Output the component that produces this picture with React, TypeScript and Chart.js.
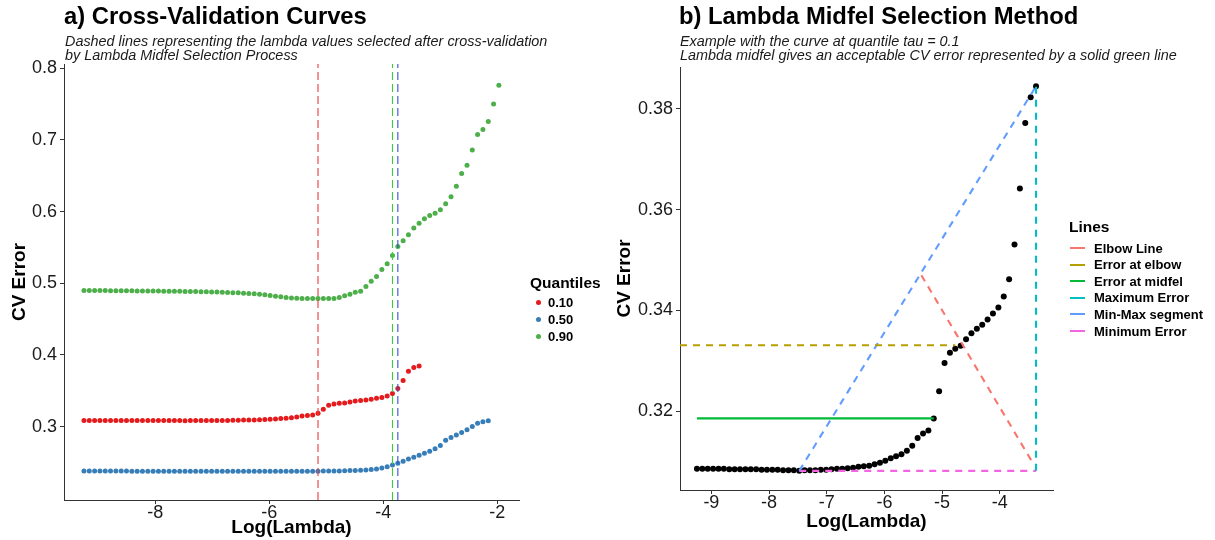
import React, { useEffect, useRef } from "react";
import { Chart, registerables } from "chart.js";

Chart.register(...registerables);

const FONT = "'Liberation Sans', Arial, Helvetica, sans-serif";

// ---------- shared lambda grid (log scale) ----------
const LOG_LAMBDA = [
  -9.25, -9.157, -9.063, -8.97, -8.877, -8.784, -8.69, -8.597, -8.504, -8.41,
  -8.317, -8.224, -8.13, -8.037, -7.944, -7.851, -7.757, -7.664, -7.571, -7.477,
  -7.384, -7.291, -7.197, -7.104, -7.011, -6.918, -6.824, -6.731, -6.638, -6.544,
  -6.451, -6.358, -6.264, -6.171, -6.078, -5.985, -5.891, -5.798, -5.705, -5.611,
  -5.518, -5.425, -5.331, -5.238, -5.145, -5.052, -4.958, -4.865, -4.772, -4.678,
  -4.585, -4.492, -4.398, -4.305, -4.212, -4.119, -4.025, -3.932, -3.839, -3.745,
  -3.652, -3.559, -3.465, -3.372, -3.279, -3.186, -3.092, -2.999, -2.906, -2.812,
  -2.719, -2.626, -2.532, -2.439, -2.346, -2.253, -2.159, -2.066, -1.973,
];

// ---------- CV error curves per quantile ----------
const CV_TAU_010 = [
  0.3086, 0.3086, 0.3086, 0.3086, 0.3086, 0.3086, 0.3085, 0.3085, 0.3085, 0.3085,
  0.3085, 0.3085, 0.3084, 0.3084, 0.3084, 0.3084, 0.3083, 0.3083, 0.3083, 0.3082,
  0.3083, 0.3083, 0.3083, 0.3084, 0.3084, 0.3085, 0.3086, 0.3086, 0.3087, 0.3088,
  0.309, 0.3091, 0.3092, 0.3095, 0.3098, 0.3102, 0.3107, 0.3111, 0.3115, 0.3122,
  0.3132, 0.3147, 0.3156, 0.3162, 0.3186, 0.324, 0.3296, 0.3316, 0.3324, 0.333,
  0.3343, 0.3355, 0.3364, 0.3372, 0.3382, 0.3394, 0.3406, 0.3428, 0.3462, 0.3531,
  0.3642, 0.3772, 0.3823, 0.3845,
];

const CV_TAU_050 = [
  0.2378, 0.2378, 0.2378, 0.2378, 0.2378, 0.2378, 0.2378, 0.2378, 0.2378, 0.2377,
  0.2377, 0.2377, 0.2377, 0.2377, 0.2377, 0.2377, 0.2377, 0.2377, 0.2377, 0.2376,
  0.2376, 0.2376, 0.2376, 0.2376, 0.2376, 0.2376, 0.2376, 0.2376, 0.2376, 0.2376,
  0.2376, 0.2376, 0.2376, 0.2376, 0.2376, 0.2376, 0.2376, 0.2376, 0.2376, 0.2376,
  0.2376, 0.2376, 0.2376, 0.2376, 0.2377, 0.2378, 0.2379, 0.238, 0.2381, 0.2383,
  0.2385, 0.2387, 0.239, 0.2394, 0.2399, 0.2408, 0.242, 0.244, 0.2464, 0.2487,
  0.2515, 0.2547, 0.2571, 0.2599, 0.2627, 0.2655, 0.2692, 0.2734, 0.2809, 0.2846,
  0.2883, 0.2916, 0.2954, 0.3, 0.3047, 0.3066, 0.308,
];

const CV_TAU_090 = [
  0.49, 0.4899, 0.4899, 0.4898, 0.4898, 0.4897, 0.4897, 0.4896, 0.4895, 0.4894,
  0.4893, 0.4893, 0.4892, 0.4891, 0.4891, 0.489, 0.4889, 0.4888, 0.4887, 0.4886,
  0.4885, 0.4884, 0.4883, 0.4881, 0.4879, 0.4877, 0.4875, 0.4872, 0.4869, 0.4866,
  0.4862, 0.4857, 0.4852, 0.4846, 0.4838, 0.483, 0.482, 0.481, 0.48, 0.4794,
  0.479, 0.4787, 0.4786, 0.4786, 0.4787, 0.4786, 0.4786, 0.4787, 0.48, 0.4824,
  0.4847, 0.4875, 0.4889, 0.4954, 0.5029, 0.5094, 0.5192, 0.5272, 0.5388, 0.5514,
  0.5594, 0.5678, 0.577, 0.5836, 0.5901, 0.5944, 0.5976, 0.6027, 0.6111, 0.6209,
  0.6353, 0.6531, 0.6647, 0.6861, 0.7077, 0.7147, 0.7259, 0.75, 0.7762,
];

const QUANTILE_LABELS = ["0.10", "0.50", "0.90"];
const QUANTILE_SERIES = [CV_TAU_010, CV_TAU_050, CV_TAU_090];
const QUANTILE_COLORS = ["#E41A1C", "#377EB8", "#4DAF4A"];
// lambda selected by the midfel process, per quantile
const SELECTED_LOG_LAMBDA = [-5.145, -3.745, -3.839];
const SELECTED_COLORS = ["#EE3B3B", "#3A4FD6", "#3CCB3C"];

// ---------- axes ----------
const LEFT_X_RANGE = [-9.6, -1.62];
const LEFT_Y_RANGE = [0.1975, 0.806];
const LEFT_X_TICKS = [-8, -6, -4, -2];
const LEFT_Y_TICKS = [0.3, 0.4, 0.5, 0.6, 0.7, 0.8];
const RIGHT_X_RANGE = [-9.544, -3.078];
const RIGHT_Y_RANGE = [0.3044, 0.3883];
const RIGHT_X_TICKS = [-9, -8, -7, -6, -5, -4];
const RIGHT_Y_TICKS = [0.32, 0.34, 0.36, 0.38];

// ---------- panel b: midfel method (tau = 0.1 curve) ----------
const MIN_ERROR_IDX = 19;
const MIDFEL_IDX = 44;
const ELBOW_IDX = 48;
const MAX_ERROR_IDX = 63;
const ELBOW_ERROR = 0.3331;
const ELBOW_LINE_X = [-5.36, -3.43];
const ELBOW_LINE_Y = [0.347, 0.3098];
const LINE_NAMES = [
  "Elbow Line",
  "Error at elbow",
  "Error at midfel",
  "Maximum Error",
  "Min-Max segment",
  "Minimum Error",
];
const LINE_COLORS = ["#F8766D", "#B79F00", "#00BA38", "#00BFC4", "#619CFF", "#F564E3"];

const TITLE_A = "a) Cross-Validation Curves";
const SUBTITLE_A = [
  "Dashed lines representing the lambda values selected after cross-validation",
  "by Lambda Midfel Selection Process",
];
const TITLE_B = "b) Lambda Midfel Selection Method";
const SUBTITLE_B = [
  "Example with the curve at quantile tau = 0.1",
  "Lambda midfel gives an acceptable CV error represented by a solid green line",
];

function toPoints(ys: number[]) {
  return ys.map((y, i) => ({ x: LOG_LAMBDA[i], y }));
}

function makeScale(o: {
  axis: "x" | "y";
  range: number[];
  ticks: number[];
  decimals: number | null;
  title: string;
  fit: number;
  tickPad: number;
  titlePad: any;
}) {
  return {
    type: "linear",
    min: o.range[0],
    max: o.range[1],
    afterBuildTicks: (s: any) => {
      s.ticks = o.ticks.map((v) => ({ value: v }));
    },
    afterFit: (s: any) => {
      if (o.axis === "x") s.height = o.fit;
      else s.width = o.fit;
    },
    ticks: {
      font: { family: FONT, size: 18, lineHeight: 1 },
      color: "#1a1a1a",
      padding: o.tickPad,
      maxRotation: 0,
      autoSkip: false,
      callback: (v: any) => (o.decimals == null ? String(v) : Number(v).toFixed(o.decimals)),
    },
    grid: {
      display: true,
      drawOnChartArea: false,
      drawTicks: true,
      tickLength: 4,
      color: "#333333",
      lineWidth: 1,
    },
    border: { display: true, color: "#333333", width: 1 },
    title: {
      display: true,
      text: o.title,
      color: "#000",
      font: { family: FONT, size: 19, weight: "bold", lineHeight: 1 },
      padding: o.titlePad,
    },
  };
}

function leftConfig(): any {
  const datasets: any[] = [];
  SELECTED_LOG_LAMBDA.forEach((v, i) => {
    datasets.push({
      label: "sel " + QUANTILE_LABELS[i],
      data: [
        { x: v, y: LEFT_Y_RANGE[0] },
        { x: v, y: LEFT_Y_RANGE[1] },
      ],
      showLine: true,
      borderColor: SELECTED_COLORS[i],
      borderWidth: 1.1,
      borderDash: [8, 4],
      pointRadius: 0,
      order: 0,
    });
  });
  QUANTILE_SERIES.forEach((s, i) => {
    datasets.push({
      label: QUANTILE_LABELS[i],
      data: toPoints(s),
      showLine: false,
      pointRadius: 2.5,
      pointBorderWidth: 0,
      backgroundColor: QUANTILE_COLORS[i],
      borderColor: QUANTILE_COLORS[i],
      order: 1,
    });
  });
  return {
    type: "scatter",
    data: { datasets },
    options: {
      animation: false,
      responsive: false,
      devicePixelRatio: 1,
      layout: { padding: { left: 0, top: 64, right: 81, bottom: 0 } },
      plugins: { legend: { display: false }, tooltip: { enabled: false } },
      events: [],
      scales: {
        x: makeScale({
          axis: "x",
          range: LEFT_X_RANGE,
          ticks: LEFT_X_TICKS,
          decimals: null,
          title: "Log(Lambda)",
          fit: 40,
          tickPad: 0,
          titlePad: { top: 0, bottom: 2.5 },
        }),
        y: makeScale({
          axis: "y",
          range: LEFT_Y_RANGE,
          ticks: LEFT_Y_TICKS,
          decimals: 1,
          title: "CV Error",
          fit: 64,
          tickPad: 3,
          titlePad: { top: 10.5, bottom: 0 },
        }),
      },
    },
  };
}

function rightConfig(): any {
  const cv = CV_TAU_010;
  const segs = [
    ELBOW_LINE_X.map((x, i) => ({ x, y: ELBOW_LINE_Y[i] })),
    [
      { x: RIGHT_X_RANGE[0], y: ELBOW_ERROR },
      { x: LOG_LAMBDA[ELBOW_IDX], y: ELBOW_ERROR },
    ],
    [
      { x: LOG_LAMBDA[0], y: cv[MIDFEL_IDX] },
      { x: LOG_LAMBDA[MIDFEL_IDX], y: cv[MIDFEL_IDX] },
    ],
    [
      { x: LOG_LAMBDA[MAX_ERROR_IDX], y: cv[MIN_ERROR_IDX] },
      { x: LOG_LAMBDA[MAX_ERROR_IDX], y: cv[MAX_ERROR_IDX] },
    ],
    [
      { x: LOG_LAMBDA[MIN_ERROR_IDX], y: cv[MIN_ERROR_IDX] },
      { x: LOG_LAMBDA[MAX_ERROR_IDX], y: cv[MAX_ERROR_IDX] },
    ],
    [
      { x: LOG_LAMBDA[MIN_ERROR_IDX], y: cv[MIN_ERROR_IDX] },
      { x: LOG_LAMBDA[MAX_ERROR_IDX], y: cv[MIN_ERROR_IDX] },
    ],
  ];
  const datasets: any[] = [
    {
      label: "CV error tau 0.1",
      data: toPoints(cv),
      showLine: false,
      pointRadius: 3,
      pointBorderWidth: 0,
      backgroundColor: "#000",
      borderColor: "#000",
      order: 2,
    },
  ];
  segs.forEach((d, i) => {
    const solid = i === 2;
    datasets.push({
      label: LINE_NAMES[i],
      data: d,
      showLine: true,
      borderColor: LINE_COLORS[i],
      borderWidth: solid ? 2.4 : 2.1,
      borderDash: solid ? [] : [7, 6],
      borderCapStyle: "butt",
      pointRadius: 0,
      order: 1,
    });
  });
  return {
    type: "scatter",
    data: { datasets },
    options: {
      animation: false,
      responsive: false,
      devicePixelRatio: 1,
      layout: { padding: { left: 0, top: 67, right: 162, bottom: 0 } },
      plugins: { legend: { display: false }, tooltip: { enabled: false } },
      events: [],
      scales: {
        x: makeScale({
          axis: "x",
          range: RIGHT_X_RANGE,
          ticks: RIGHT_X_TICKS,
          decimals: null,
          title: "Log(Lambda)",
          fit: 50,
          tickPad: 0.5,
          titlePad: { top: 0, bottom: 9 },
        }),
        y: makeScale({
          axis: "y",
          range: RIGHT_Y_RANGE,
          ticks: RIGHT_Y_TICKS,
          decimals: 2,
          title: "CV Error",
          fit: 80,
          tickPad: 3,
          titlePad: { top: 15.5, bottom: 0 },
        }),
      },
    },
  };
}

const abs = (left: number, top: number, extra: any = {}): any => ({
  position: "absolute",
  left,
  top,
  whiteSpace: "nowrap",
  ...extra,
});

export default function App() {
  const leftRef = useRef<HTMLCanvasElement>(null);
  const rightRef = useRef<HTMLCanvasElement>(null);

  useEffect(() => {
    const c1 = new Chart(leftRef.current as HTMLCanvasElement, leftConfig());
    const c2 = new Chart(rightRef.current as HTMLCanvasElement, rightConfig());
    return () => {
      c1.destroy();
      c2.destroy();
    };
  }, []);

  const titleStyle = { fontSize: 23.8, lineHeight: "23.8px", fontWeight: 700, color: "#000" };
  const subStyle = { fontSize: 14.4, lineHeight: "14.4px", fontStyle: "italic", color: "#1a1a1a" };
  const legTitle = { fontSize: 15.5, lineHeight: "15.5px", fontWeight: 700, color: "#000" };
  const legItem = { fontSize: 13, lineHeight: "13px", fontWeight: 700, color: "#000" };

  return (
    <div
      style={{
        position: "absolute",
        left: 0,
        top: 0,
        width: 1215,
        height: 540,
        background: "#fff",
        overflow: "hidden",
        fontFamily: FONT,
      }}
    >
      <canvas ref={leftRef} width={600} height={540} style={{ position: "absolute", left: 0, top: 0 }} />
      <canvas ref={rightRef} width={615} height={540} style={{ position: "absolute", left: 600, top: 0 }} />

      <div style={abs(64, 4, titleStyle)}>{TITLE_A}</div>
      {SUBTITLE_A.map((t, i) => (
        <div key={"sa" + i} style={abs(65, 33.5 + i * 14, subStyle)}>
          {t}
        </div>
      ))}
      <div style={abs(679, 4, titleStyle)}>{TITLE_B}</div>
      {SUBTITLE_B.map((t, i) => (
        <div key={"sb" + i} style={abs(680, 33.5 + i * 14, subStyle)}>
          {t}
        </div>
      ))}

      {/* legend a */}
      <div style={abs(530, 283 - 7.6, legTitle)}>Quantiles</div>
      {QUANTILE_LABELS.map((l, i) => {
        const cy = 302 + i * 17;
        return (
          <React.Fragment key={"qa" + i}>
            <div
              style={abs(536, cy - 2.5, {
                width: 5,
                height: 5,
                borderRadius: "50%",
                background: QUANTILE_COLORS[i],
              })}
            />
            <div style={abs(548, cy - 6.4, legItem)}>{l}</div>
          </React.Fragment>
        );
      })}

      {/* legend b */}
      <div style={abs(1069, 227 - 7.6, legTitle)}>Lines</div>
      {LINE_NAMES.map((l, i) => {
        const cy = 248 + i * 16.6;
        return (
          <React.Fragment key={"lb" + i}>
            <div
              style={abs(1070, cy - 1, {
                width: 15,
                height: 2,
                background: LINE_COLORS[i],
              })}
            />
            <div style={abs(1094, cy - 6.4, legItem)}>{l}</div>
          </React.Fragment>
        );
      })}
    </div>
  );
}
